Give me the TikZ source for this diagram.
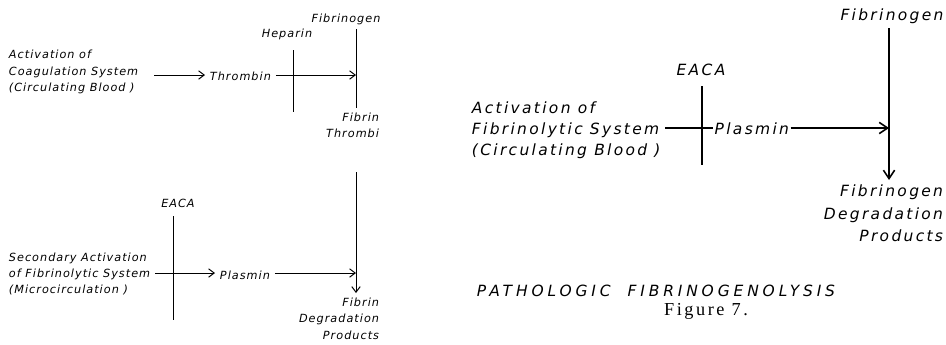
\documentclass[tikz,border=0pt]{standalone}
\usepackage{fontspec}
\usetikzlibrary{positioning,arrows.meta}
\newfontfamily\smalllettering[LetterSpace=9]{DejaVu Sans}
\newfontfamily\biglettering[LetterSpace=15]{DejaVu Sans}
\newfontfamily\titlelettering[LetterSpace=25]{DejaVu Sans}
\newfontfamily\captionfont[LetterSpace=14]{Liberation Serif}

\begin{document}
\begin{tikzpicture}[x=0.025cm, y=-0.025cm,
    small/.style={font=\smalllettering\itshape\fontsize{8pt}{11.7pt}\selectfont},
    big/.style={font=\biglettering\itshape\fontsize{11pt}{15pt}\selectfont},
    thinline/.style={line width=0.7pt},
    thickline/.style={line width=1.1pt},
    arr/.style={thinline, -{Straight Barb[length=4pt, width=6pt]}},
    bigarr/.style={thickline, -{Straight Barb[length=6pt, width=8pt]}}]
    \useasboundingbox (0,0) rectangle (946,344);

    % coagulation
    \node[small, anchor=west, align=left] (coag) at (4,72) {Activation of\\Coagulation System\\(Circulating Blood )};
    \node[small, anchor=west] (thrombin) at (205,76) {Thrombin};
    \node[small] (heparin) at (287,34) {Heparin};
    \node[small] (fgn1) at (346,19) {Fibrinogen};
    \node[small, anchor=north east, align=right] (thrombi) at (384,108) {Fibrin\\Thrombi};
    \coordinate (fx1) at (356,75);
    \coordinate (hx) at (293,112);
    \draw[arr, shorten <=8pt] (coag.east |- fx1) -- (thrombin.west |- fx1);
    \draw[arr] (thrombin.east |- fx1) -- (fx1);
    \draw[thinline, shorten <=4pt] (heparin.south -| hx) -- (hx);
    \draw[thinline] (fgn1.south -| fx1) -- (thrombi.north -| fx1);

    % secondary fibrinolysis
    \node[small, anchor=west, align=left] (act2) at (4,274) {Secondary Activation\\of Fibrinolytic System\\(Microcirculation )};
    \node[small] (eaca1) at (178,203) {EACA};
    \node[small, anchor=west] (plasmin1) at (215,275) {Plasmin};
    \node[small, anchor=north east, align=right] (fdp) at (384,293) {Fibrin\\Degradation\\Products};
    \coordinate (ex1) at (173,320);
    \coordinate (fx2) at (356,273);
    \coordinate (ftop) at (356,172);
    \draw[thinline, shorten <=3pt] (eaca1.south -| ex1) -- (ex1);
    \draw[arr] (act2.east |- fx2) -- (plasmin1.west |- fx2);
    \draw[arr] (plasmin1.east |- fx2) -- (fx2);
    \draw[arr] (ftop) -- (fdp.north -| ftop);

    % pathologic fibrinogenolysis
    \node[big, anchor=west, align=left] (act3) at (467,130) {Activation of\\Fibrinolytic System\\(Circulating Blood )};
    \node[big] (eaca2) at (701,70) {EACA};
    \node[big, anchor=west, inner sep=1pt] (plasmin2) at (713,129) {Plasmin};
    \node[big] (fgn2) at (892,16) {Fibrinogen};
    \node[big, anchor=north east, align=right, font=\biglettering\itshape\fontsize{11pt}{16pt}\selectfont] (fgdp) at (948,180) {Fibrinogen\\Degradation\\Products};
    \coordinate (ex2) at (702,165);
    \coordinate (jx) at (889,128);
    \draw[thickline, shorten <=4pt] (eaca2.south -| ex2) -- (ex2);
    \draw[thickline] (act3.east |- jx) -- (plasmin2.west |- jx);
    \draw[bigarr] (plasmin2.east |- jx) -- (jx);
    \draw[bigarr] (fgn2.south -| jx) -- (fgdp.north -| jx);

    \node[font=\titlelettering\itshape\fontsize{11pt}{13pt}\selectfont] (title) at (656,291) {PATHOLOGIC\hspace{12pt}FIBRINOGENOLYSIS};
    \node[font=\captionfont\fontsize{13pt}{15pt}\selectfont] (figno) at (706,311) {Figure 7.};
\end{tikzpicture}
\end{document}
